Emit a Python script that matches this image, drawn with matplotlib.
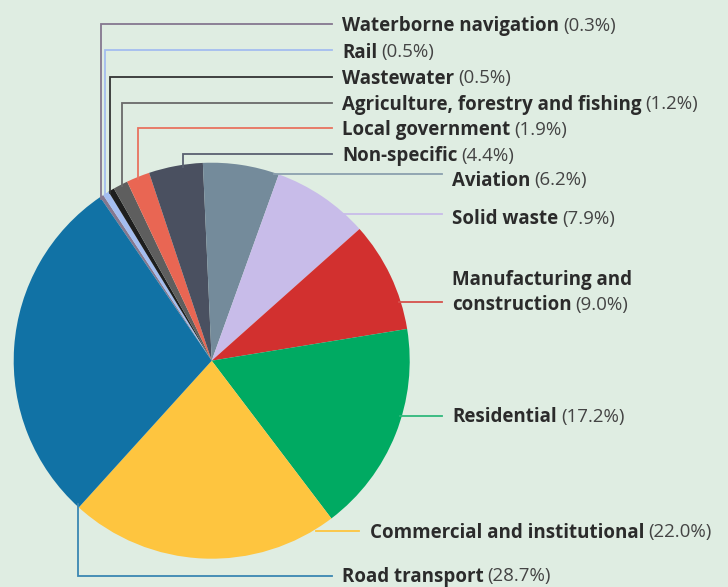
import matplotlib
matplotlib.use("Agg")
import matplotlib.pyplot as plt
import math

categories = ["Waterborne navigation", "Rail", "Wastewater",
              "Agriculture, forestry and fishing", "Local government",
              "Non-specific", "Aviation", "Solid waste",
              "Manufacturing and\nconstruction", "Residential",
              "Commercial and institutional", "Road transport"]
values = [0.3, 0.5, 0.5, 1.2, 1.9, 4.4, 6.2, 7.9, 9.0, 17.2, 22.0, 28.7]
pct_labels = ["(0.3%)", "(0.5%)", "(0.5%)", "(1.2%)", "(1.9%)", "(4.4%)",
              "(6.2%)", "(7.9%)", "(9.0%)", "(17.2%)", "(22.0%)", "(28.7%)"]

colors = ["#85778f", "#a4bdf0", "#1e1e1e", "#5e5e5e", "#e96653", "#4a5060",
          "#748b9b", "#c8bce9", "#d2302f", "#00aa62", "#fec53f", "#1172a5"]
line_colors = ["#85778f", "#a4bdf0", "#333333", "#6a6a6a", "#e8735f", "#596070",
               "#8ba0ae", "#c8bce9", "#d6514c", "#2fb87b", "#fec53f", "#3a86b2"]

BG = "#dfede2"
W, H = 728, 587
fig = plt.figure(figsize=(W / 100, H / 100), dpi=100, facecolor=BG)
ax = fig.add_axes([0, 0, 1, 1])
ax.set_facecolor(BG)

def Y(y):
    return H - y

cx, cy, R = 211.7, 360.7, 198
ax.pie(values, colors=colors, startangle=124.3, counterclock=False,
       center=(cx, Y(cy)), radius=R, frame=True,
       wedgeprops=dict(linewidth=0))
ax.set_xlim(0, W)
ax.set_ylim(0, H)
ax.set_aspect("equal")
ax.axis("off")

def circ_y_top(x):
    return cy - math.sqrt(R**2 - (x - cx)**2)
def circ_x_right(y):
    return cx + math.sqrt(R**2 - (y - cy)**2)

FONT = "Open Sans"
FS = 13.5
lw = 1.3
fig.canvas.draw()
renderer = fig.canvas.get_renderer()

def label(x, y, bold, pct, va="center_baseline"):
    t = ax.text(x, Y(y), bold, fontsize=FS, fontweight="bold", family=FONT,
                color="#2b2b2b", va=va, ha="left")
    bb = t.get_window_extent(renderer=renderer)
    ax.text(bb.x1 + 4, Y(y), pct, fontsize=FS, family=FONT,
            color="#444444", va=va, ha="left")

# top-left leaders: (vertical x, label y)
top = [(100.7, 24), (105.3, 50), (110.0, 76.5), (121.7, 102.5), (137.7, 128), (183.0, 154)]
for i, (lx, ly) in enumerate(top):
    y0 = circ_y_top(lx)
    ax.plot([lx, lx, 332], [Y(y0 + 2), Y(ly), Y(ly)], color=line_colors[i], lw=lw,
            solid_joinstyle="miter")
    label(342, ly, categories[i], pct_labels[i])

# right side leaders
right = [(6, 173.5, 178), (7, 214.3, 217), (9, 415.7, 415)]
for i, ly, ty in right:
    x0 = circ_x_right(ly)
    ax.plot([x0 - 2, 441.7], [Y(ly), Y(ly)], color=line_colors[i], lw=lw)
    label(452, ty, categories[i], pct_labels[i])

# manufacturing (two lines)
ly = 301.7
ax.plot([circ_x_right(ly) - 2, 441.7], [Y(ly), Y(ly)], color=line_colors[8], lw=lw)
first, second = categories[8].split("\n")
ax.text(452, Y(278), first, fontsize=FS, fontweight="bold", family=FONT,
        color="#2b2b2b", va="center_baseline", ha="left")
label(452, 303, second, pct_labels[8])

# commercial
ly = 530.7
ax.plot([circ_x_right(ly) + 3, 359], [Y(ly), Y(ly)], color=line_colors[10], lw=lw)
label(370, 530, categories[10], pct_labels[10])

# road transport
lx = 77.7
y0 = cy + math.sqrt(R**2 - (lx - cx)**2)
ax.plot([lx, lx, 332], [Y(y0 - 2), Y(576), Y(576)], color=line_colors[11], lw=lw,
        solid_joinstyle="miter")
label(342, 574.5, categories[11], pct_labels[11])

fig.savefig("out.png", dpi=100, facecolor=BG)
